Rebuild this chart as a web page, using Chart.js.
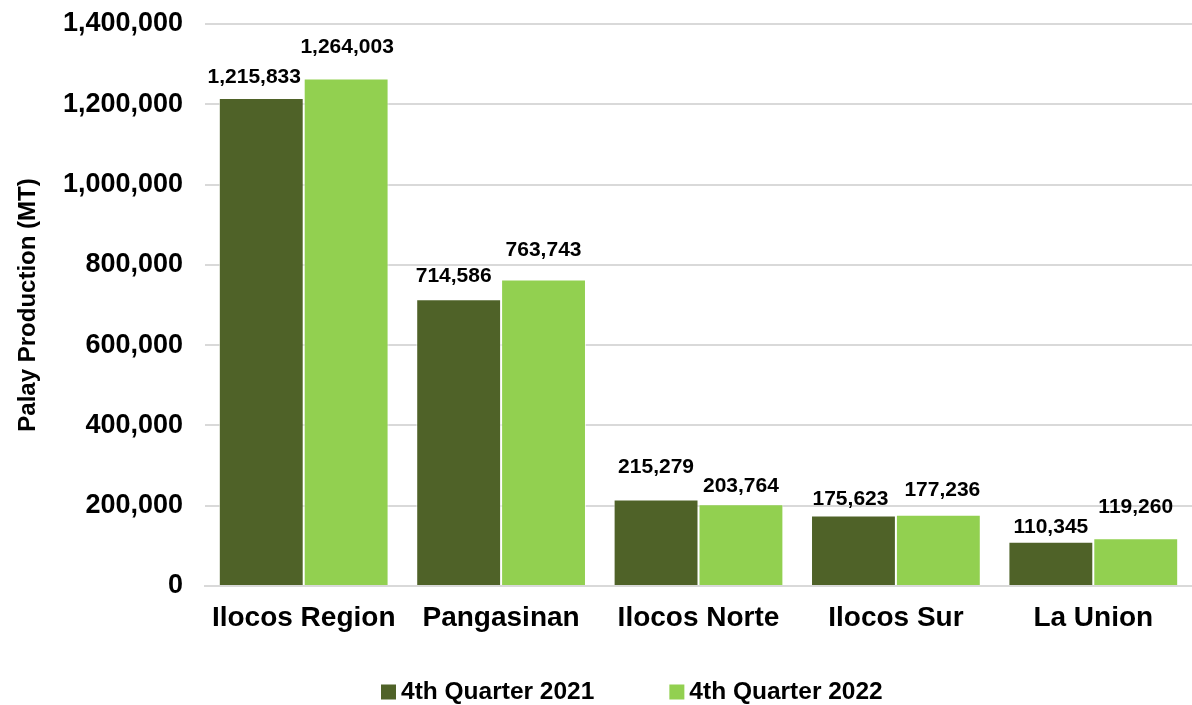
<!DOCTYPE html>
<html>
<head>
<meta charset="utf-8">
<script src="https://cdn.jsdelivr.net/npm/chart.js@4"></script>
<style>
html,body{margin:0;padding:0;background:#fff;}
#wrap{width:1192px;height:705px;position:relative;}
</style>
</head>
<body>
<div id="wrap"><canvas id="c"></canvas></div>
<script>
const categories = ["Ilocos Region", "Pangasinan", "Ilocos Norte", "Ilocos Sur", "La Union"];
const q4_2021 = [1215833, 714586, 215279, 175623, 110345];
const q4_2022 = [1264003, 763743, 203764, 177236, 119260];
const seriesNames = ["4th Quarter 2021", "4th Quarter 2022"];
const seriesColors = ["#4F6228", "#92D050"];
const yTickMax = 1400000;
const yTickStep = 200000;
const yTitle = "Palay Production (MT)";

// label placement tweaks (pixels above bar top / horizontal nudge), as placed in the original
const labelLift = [[15, 17, 27, 10, 9], [26, 23, 12, 19, 25]];
const labelNudge = [[-7, -5, 0, -3, 0], [1, 0, 0, 4, 0]];

const FONT = "'Liberation Sans', Arial, sans-serif";
const fmt = v => v.toLocaleString('en-US');

const dataLabels = {
  id: 'dataLabels',
  afterDatasetsDraw(chart) {
    const ctx = chart.ctx;
    ctx.save();
    ctx.font = "bold 21px " + FONT;
    ctx.fillStyle = "#000";
    ctx.textAlign = "center";
    ctx.textBaseline = "alphabetic";
    chart.data.datasets.forEach((ds, i) => {
      chart.getDatasetMeta(i).data.forEach((bar, j) => {
        ctx.fillText(fmt(ds.data[j]), bar.x + labelNudge[i][j], bar.y - labelLift[i][j]);
      });
    });
    ctx.restore();
  }
};

const customLegend = {
  id: 'customLegend',
  afterDraw(chart) {
    const ctx = chart.ctx;
    ctx.save();
    ctx.font = "bold 24.5px " + FONT;
    ctx.textBaseline = "middle";
    ctx.textAlign = "left";
    const box = 15, gapBoxText = 5, gapItems = 75;
    const items = chart.data.datasets.map(ds => ({label: ds.label, color: ds.backgroundColor, w: ctx.measureText(ds.label).width}));
    let x = 381;
    const y = 691;
    items.forEach((it) => {
      ctx.fillStyle = it.color;
      ctx.fillRect(x, y - box / 2 + 1, box, box);
      ctx.fillStyle = "#000";
      ctx.fillText(it.label, x + box + gapBoxText, y + 1);
      x += box + gapBoxText + it.w + gapItems;
    });
    ctx.restore();
  }
};

new Chart(document.getElementById('c'), {
  type: 'bar',
  data: {
    labels: categories,
    datasets: [
      {label: seriesNames[0], data: q4_2021, backgroundColor: seriesColors[0], borderColor: 'rgba(255,255,255,0.7)', borderWidth: 1, categoryPercentage: 0.86, barPercentage: 1.0},
      {label: seriesNames[1], data: q4_2022, backgroundColor: seriesColors[1], borderColor: 'rgba(255,255,255,0.7)', borderWidth: 1, categoryPercentage: 0.86, barPercentage: 1.0}
    ]
  },
  options: {
    responsive: true,
    maintainAspectRatio: false,
    animation: false,
    layout: {padding: {top: 24, right: 0, bottom: 50, left: 0}},
    plugins: {legend: {display: false}, tooltip: {enabled: false}},
    scales: {
      x: {
        grid: {display: false, drawTicks: false},
        border: {color: '#d9d9d9', width: 2},
        ticks: {color: '#000', font: {family: FONT, size: 28, weight: 'bold'}, padding: 15, maxRotation: 0},
        afterFit: s => { s.height = 69; }
      },
      y: {
        min: 0, max: yTickMax,
        grid: {color: '#d9d9d9', lineWidth: 2, drawTicks: false},
        border: {display: false},
        ticks: {stepSize: yTickStep, color: '#000', font: {family: FONT, size: 27, weight: 'bold'}, padding: 22, callback: v => fmt(v)},
        title: {display: true, text: yTitle, color: '#000', font: {family: FONT, size: 24, weight: 'bold'}, padding: {top: 14, bottom: 0}},
        afterFit: s => { s.width = 205; s.paddingTop = 0; s.paddingBottom = 0; }
      }
    }
  },
  plugins: [dataLabels, customLegend]
});
</script>
</body>
</html>
